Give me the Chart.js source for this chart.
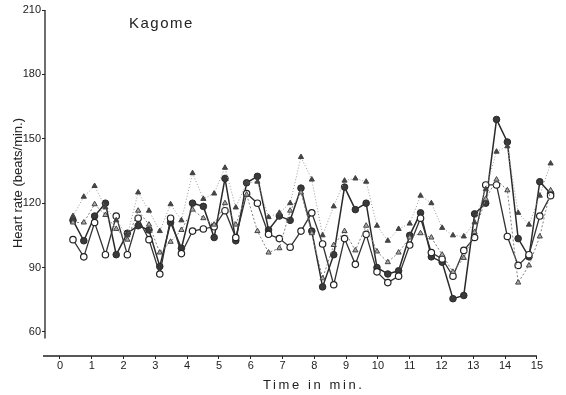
<!DOCTYPE html>
<html>
<head>
<meta charset="utf-8">
<script src="https://cdn.jsdelivr.net/npm/chart.js@4.4.1/dist/chart.umd.min.js"></script>
<style>
  html, body { margin: 0; padding: 0; background: #fff; }
</style>
</head>
<body>
<canvas id="hrChart" width="566" height="395"></canvas>
<script>
// sample times (min), one reading every ~20 s
const times = [0.41, 0.75, 1.09, 1.43, 1.77, 2.12, 2.46, 2.80, 3.14, 3.48, 3.82, 4.17, 4.51, 4.85, 5.19,
               5.53, 5.87, 6.21, 6.56, 6.90, 7.24, 7.58, 7.92, 8.26, 8.61, 8.95, 9.29, 9.63, 9.97, 10.31,
               10.65, 11.00, 11.34, 11.68, 12.02, 12.36, 12.70, 13.04, 13.39, 13.73, 14.07, 14.41, 14.75, 15.09, 15.43];

// heart rate (beats/min) for the four subjects
const filledCircle = [112, 102.5, 114, 120, 96, 106, 109.5, 107.5, 90.5, 111, 99, 120, 118.5, 104, 131.5,
                      102.5, 129.5, 132.5, 107.5, 114, 112, 127, 107, 81, 96, 127.5, 117, 120, 90, 87,
                      88.5, 105, 115.5, 95, 92.5, 75.5, 77, 115, 120, 159, 148.5, 103.5, 95, 130, 124.5];
const openCircle = [103, 95, 111, 96, 114, 96, 113, 103, 87, 113, 96.5, 107, 108, 109, 116.5,
                    104, 124.5, 120, 105.5, 103.5, 99.5, 107, 115.5, 101, 82, 103.5, 91.5, 105.5, 88, 83,
                    86, 100.5, 113, 97, 94, 86, 98, 104, 128.5, 128.5, 104.5, 91, 96, 114, 123.5];
const filledTriangle = [114, 123, 128, 118, 112, 105, 125, 116.5, 107, 119.5, 112, 134, 122, 124.5, 136.5,
                        118, 129.5, 130, 113.5, 115.5, 120, 141.5, 131, 105, 118.5, 130.5, 131.5, 130, 109.5, 102.5,
                        108, 110.5, 123.5, 120, 108.5, 105, 104.5, 111, 126.5, 144, 146.5, 115.5, 110, 123.5, 138.5];
const openTriangle = [111, 111, 119.5, 114.5, 108, 103, 116.5, 110, 97, 102, 107.5, 117, 113, 110, 120,
                      110, 124, 107, 97, 99, 116.5, 125, 106, 85, 100.5, 107, 98, 109.5, 97.5, 92.5,
                      97, 104, 106, 104, 96, 88, 94.5, 106.5, 122, 131, 126, 83, 91, 104.5, 126];

const xTicks = [0, 1, 2, 3, 4, 5, 6, 7, 8, 9, 10, 11, 12, 13, 14, 15];
const yTicks = [60, 90, 120, 150, 180, 210];
const panelTitle = 'Kagome';
const xTitle = 'Time in min.';

const toPoints = (vals) => vals.map((v, i) => ({ x: times[i], y: v }));

// axis lines drawn separately so the y axis stops short of the x axis, like the original
const axisLines = {
    id: 'axisLines',
    afterDraw(chart) {
        const { ctx, chartArea, scales: { x, y } } = chart;
        ctx.save();
        ctx.strokeStyle = '#222';
        ctx.lineWidth = 1.3;
        ctx.beginPath();
        ctx.moveTo(chartArea.left, y.getPixelForValue(210));
        ctx.lineTo(chartArea.left, y.getPixelForValue(57));
        ctx.moveTo(chartArea.left - 2, chartArea.bottom);
        ctx.lineTo(x.getPixelForValue(15), chartArea.bottom);
        ctx.stroke();

        ctx.fillStyle = '#222';
        ctx.textBaseline = 'alphabetic';
        ctx.font = '15px "Liberation Sans", sans-serif';
        ctx.letterSpacing = '1.5px';
        ctx.fillText(panelTitle, 129, 28);

        // x axis title, letter-spaced and a little right of centre as in the original
        ctx.font = '13px "Liberation Sans", sans-serif';
        ctx.letterSpacing = '2.6px';
        ctx.fillText(xTitle, 263, 389);
        ctx.restore();
    }
};

const tickFont = { family: '"Liberation Sans Narrow", "Liberation Sans", sans-serif', size: 11 };

new Chart(document.getElementById('hrChart'), {
    type: 'line',
    data: {
        datasets: [
            {
                label: 'filled triangle',
                data: toPoints(filledTriangle),
                borderColor: '#999',
                borderWidth: 1,
                borderDash: [1, 2],
                pointStyle: 'triangle',
                pointRadius: 3,
                pointBackgroundColor: '#444',
                pointBorderColor: '#444',
                pointBorderWidth: 1
            },
            {
                label: 'open triangle',
                data: toPoints(openTriangle),
                borderColor: '#808080',
                borderWidth: 1,
                borderDash: [2, 2],
                pointStyle: 'triangle',
                pointRadius: 3,
                pointBackgroundColor: '#aaa',
                pointBorderColor: '#444',
                pointBorderWidth: 1
            },
            {
                label: 'open circle',
                data: toPoints(openCircle),
                borderColor: '#333',
                borderWidth: 1.3,
                pointStyle: 'circle',
                pointRadius: 3.2,
                pointBackgroundColor: '#fff',
                pointBorderColor: '#222',
                pointBorderWidth: 1.2
            },
            {
                label: 'filled circle',
                data: toPoints(filledCircle),
                borderColor: '#2a2a2a',
                borderWidth: 1.5,
                pointStyle: 'circle',
                pointRadius: 3.3,
                pointBackgroundColor: '#3a3a3a',
                pointBorderColor: '#2a2a2a',
                pointBorderWidth: 1
            }
        ]
    },
    options: {
        responsive: false,
        animation: false,
        devicePixelRatio: 1,
        layout: { padding: { top: 10, right: 10, bottom: 0, left: 0 } },
        plugins: {
            legend: { display: false },
            tooltip: { enabled: false }
        },
        scales: {
            x: {
                type: 'linear',
                min: -0.47,
                max: 15.6,
                afterFit: (scale) => { scale.height = 39; },
                afterBuildTicks: (scale) => { scale.ticks = xTicks.map(v => ({ value: v })); },
                border: { display: false },
                grid: { drawOnChartArea: false, tickLength: 3, color: '#222' },
                ticks: { color: '#222', font: tickFont, padding: 0, maxRotation: 0 },
                title: { display: false }
            },
            y: {
                type: 'linear',
                min: 48.8,
                max: 210,
                afterFit: (scale) => { scale.width = 45; },
                afterBuildTicks: (scale) => { scale.ticks = yTicks.map(v => ({ value: v })); },
                border: { display: false },
                grid: { drawOnChartArea: false, tickLength: 3, color: '#222' },
                ticks: { color: '#222', font: tickFont, padding: 1 },
                title: {
                    display: true,
                    text: 'Heart rate (beats/min.)',
                    color: '#222',
                    font: { family: '"Liberation Sans", sans-serif', size: 13 },
                    padding: { top: 11, bottom: 0 }
                }
            }
        }
    },
    plugins: [axisLines]
});
</script>
</body>
</html>
